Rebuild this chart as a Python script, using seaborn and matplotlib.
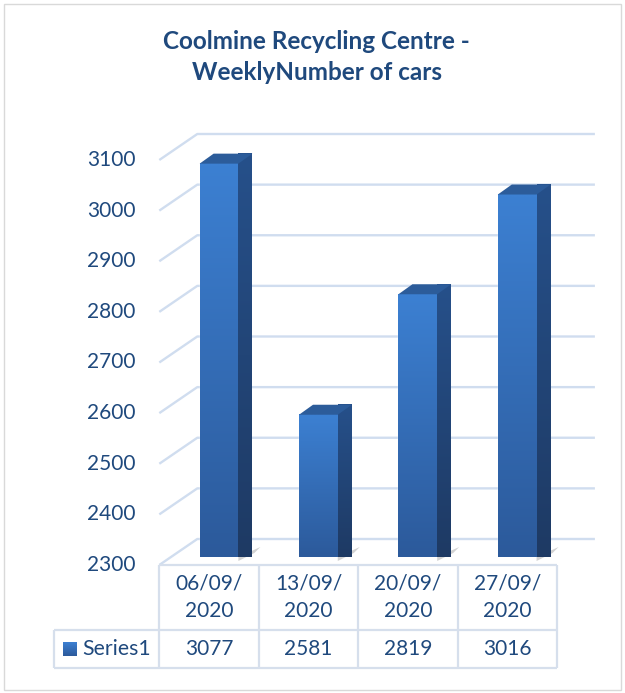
import numpy as np
import pandas as pd
import seaborn as sns
import matplotlib
matplotlib.use("Agg")
import matplotlib.pyplot as plt
from matplotlib.transforms import IdentityTransform
from matplotlib.patches import Polygon, Rectangle
from matplotlib.lines import Line2D

# ---------------- data ----------------
title = "Coolmine Recycling Centre -\nWeeklyNumber of cars"
categories = ["06/09/\n2020", "13/09/\n2020", "20/09/\n2020", "27/09/\n2020"]
values = [3077, 2581, 2819, 3016]
series_name = "Series1"
y_ticks = [2300, 2400, 2500, 2600, 2700, 2800, 2900, 3000, 3100]

# ---------------- style ----------------
W, H, DPI = 625, 693, 100
TXT = "#1F497D"
GRID = "#D0DDEF"
TABLE = "#D6DFEC"
FRONT_TOP, FRONT_BOT = np.array([60, 128, 210]) / 255, np.array([44, 90, 155]) / 255
SIDE_TOP, SIDE_BOT = np.array([38, 80, 138]) / 255, np.array([30, 58, 100]) / 255
TOP_C = "#2C5C9A"

sns.set_theme(style="white")
plt.rcParams["font.family"] = ["Lato", "DejaVu Sans"]

fig = plt.figure(figsize=(W / DPI, H / DPI), dpi=DPI)
fig.patch.set_facecolor("white")
ax = fig.add_axes([169.3 / W, (H - 557) / H, 397.6 / W, 405 / H])

df = pd.DataFrame({"week": categories, "cars": values})
sns.barplot(data=df, x="week", y="cars", ax=ax, width=0.39,
            color="#3A78C4", saturation=1, zorder=2)
ax.set_xlim(-0.5, 3.5)
ax.set_ylim(y_ticks[0], y_ticks[-1])
ax.axis("off")
ax.patch.set_visible(False)

ID = IdentityTransform()
FRONT = (-10, 8)     # front wall offset (px, +down)
BACK = (28, -18)     # back wall offset
DEPTH = (14, -10)    # bar depth offset


def disp(x, y, off=(0, 0)):
    px, py = ax.transData.transform((x, y))
    return px + off[0], py - off[1]


def line(pts, color, lw, z=0.5):
    xs, ys = zip(*pts)
    ax.add_line(Line2D(xs, ys, transform=ID, color=color, lw=lw,
                       clip_on=False, zorder=z, solid_capstyle="butt"))


# ---------------- walls / gridlines ----------------
xl, xr = ax.get_xlim()
for t in y_ticks:
    line([disp(xl, t, FRONT), disp(xl, t, BACK), disp(xr, t, BACK)], GRID, 1.7)
    fx, fy = disp(xl, t, FRONT)
    ax.text(fx - 24, fy, f"{t}", transform=ID, ha="right", va="center",
            fontsize=15, color=TXT, clip_on=False)

# ---------------- 3D bars ----------------
def grad_img(c_top, c_bot, n=64):
    f = np.linspace(0, 1, n)[:, None]
    return (c_top[None, :] * (1 - f) + c_bot[None, :] * f)[:, None, :]

base = y_ticks[0]
for p in ax.patches:
    x0 = p.get_x()
    x1 = x0 + p.get_width()
    top = p.get_y() + p.get_height()
    # front face gradient
    ax.imshow(grad_img(FRONT_TOP, FRONT_BOT), extent=(x0, x1, base, top),
              aspect="auto", zorder=3, interpolation="bilinear")
    # shadow
    sh = [disp(x1, base), disp(x1, base, (DEPTH[0] + 8, DEPTH[1])),
          disp(x1, base, (DEPTH[0] + 2, DEPTH[1] + 6)), disp(x1, base, (0, 4))]
    ax.add_patch(Polygon(sh, closed=True, transform=ID, facecolor="#7F7F7F",
                         alpha=0.35, edgecolor="none", zorder=1.5, clip_on=False))
    # side face
    side = [disp(x1, base), disp(x1, top), disp(x1, top, DEPTH), disp(x1, base, DEPTH)]
    spoly = Polygon(side, closed=True, transform=ID, facecolor="none",
                    edgecolor="none", zorder=3)
    ax.add_patch(spoly)
    sx = [q[0] for q in side]
    sy = [q[1] for q in side]
    im = ax.imshow(grad_img(SIDE_TOP, SIDE_BOT),
                   extent=(min(sx), max(sx), min(sy), max(sy)),
                   transform=ID, aspect="auto", zorder=3, clip_on=False,
                   interpolation="bilinear")
    im.set_clip_path(spoly)
    # top face
    tp = [disp(x0, top), disp(x1, top), disp(x1, top, DEPTH), disp(x0, top, DEPTH)]
    ax.add_patch(Polygon(tp, closed=True, transform=ID, facecolor=TOP_C,
                         edgecolor="none", zorder=3.2, clip_on=False))

ax.set_xlim(xl, xr)
ax.set_ylim(y_ticks[0], y_ticks[-1])

# ---------------- data table ----------------
n = len(categories)
edges = [disp(i - 0.5, base, FRONT)[0] for i in range(n + 1)]
_, y_top = disp(xl, base, FRONT)
y_mid = y_top - 65
y_bot = y_top - 103
x_lab = 54
line([(edges[0], y_top), (edges[-1], y_top)], TABLE, 1.6)
line([(x_lab, y_mid), (edges[-1], y_mid)], TABLE, 1.6)
line([(x_lab, y_bot), (edges[-1], y_bot)], TABLE, 1.6)
line([(x_lab, y_mid), (x_lab, y_bot)], TABLE, 1.6)
for e in edges:
    line([(e, y_top), (e, y_bot)], TABLE, 1.6)

for i, (c, v) in enumerate(zip(categories, values)):
    cx = (edges[i] + edges[i + 1]) / 2
    ax.text(cx, (y_top + y_mid) / 2, c, transform=ID, ha="center", va="center",
            fontsize=15, color=TXT, linespacing=1.45, clip_on=False)
    ax.text(cx, (y_mid + y_bot) / 2, f"{v}", transform=ID, ha="center",
            va="center", fontsize=15, color=TXT, clip_on=False)

ym = (y_mid + y_bot) / 2
key = Rectangle((63, ym - 7), 14, 14, transform=ID, clip_on=False, zorder=3)
ax.add_patch(key)
key_img = ax.imshow(grad_img(FRONT_TOP, FRONT_BOT), extent=(63, 77, ym - 7, ym + 7),
                    transform=ID, aspect="auto", zorder=3, clip_on=False)
key_img.set_clip_path(key)
key.set_facecolor("none")
ax.text(82, ym, series_name, transform=ID, ha="left", va="center",
        fontsize=15.3, color=TXT, clip_on=False)

ax.set_xlim(xl, xr)
ax.set_ylim(y_ticks[0], y_ticks[-1])

# ---------------- title & border ----------------
fig.text(316.5 / W, 1 - 57 / H, title, ha="center", va="center",
         fontsize=17.5, fontweight="bold", color=TXT, linespacing=1.42)
fig.add_artist(Rectangle((3.5 / W, 3.5 / H), 617 / W, 686 / H,
                         transform=fig.transFigure, fill=False,
                         edgecolor="#D9D9D9", lw=1))

fig.savefig("out.png", dpi=DPI)
